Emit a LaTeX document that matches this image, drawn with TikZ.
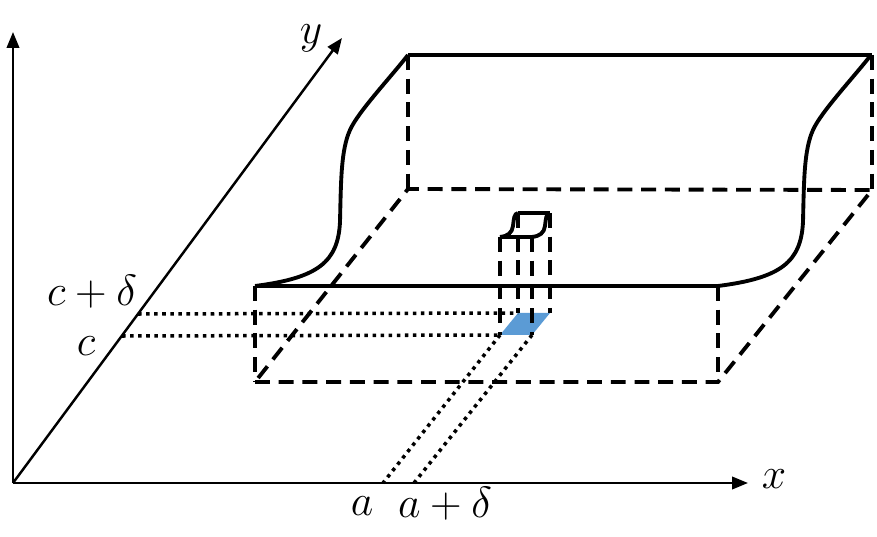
\documentclass[tikz,border=0pt]{standalone}
\usepackage{amsmath}
\usetikzlibrary{arrows.meta}

\begin{document}
\begin{tikzpicture}[x=0.02cm,y=-0.02cm]
   \useasboundingbox (0,0) rectangle (877,537);
   \tikzstyle{axis}=[line width=1.4pt,-{Triangle[length=9pt,width=7pt]}]
   \tikzstyle{edge}=[line width=2.2pt]
   \tikzstyle{hidden}=[line width=2.2pt,dash pattern=on 8.5pt off 5pt]
   \tikzstyle{proj}=[line width=2pt,dash pattern=on 2pt off 2.6pt]
   \tikzstyle{lbl}=[font=\fontsize{24}{28}\selectfont]
   \definecolor{patch}{RGB}{91,155,213}
   % axes
   \coordinate (origin) at (13,483);
   \coordinate (xtip) at (748,483);
   \coordinate (ytip) at (342,38);
   \coordinate (ztip) at (13,32);
   \coordinate (cpt) at (122,336);
   \coordinate (cdpt) at (138,314);
   \coordinate (apt) at (383,483);
   \coordinate (adpt) at (414,483);
   % box: top and floor corners, f/b = front/back, l/r = left/right
   \coordinate (topfl) at (255,286);
   \coordinate (topfr) at (718,286);
   \coordinate (topbl) at (408,55);
   \coordinate (topbr) at (872,55);
   \coordinate (floorfl) at (255,382);
   \coordinate (floorfr) at (718,382);
   \coordinate (floorbl) at (408,189);
   \coordinate (floorbr) at (872,190);
   % small column over the patch
   \coordinate (colfl) at (500,237);
   \coordinate (colfr) at (532,237);
   \coordinate (colbl) at (518,213);
   \coordinate (colbr) at (550,213);
   \coordinate (basefl) at (500,335);
   \coordinate (basefr) at (532,335);
   \coordinate (basebl) at (518,313);
   \coordinate (basebr) at (550,313);

   \fill[patch] (basefl) -- (basefr) -- (basebr) -- (basebl) -- cycle;
   \path (cdpt) edge[proj] (basebl);
   \path (cpt) edge[proj] (basefl);
   \path (basefl) edge[proj] (apt);
   \path (basefr) edge[proj] (adpt);

   \draw[axis] (origin) -- (ztip);
   \draw[axis] (origin) -- (xtip);
   \draw[axis] (origin) -- (ytip);
   \node[lbl] (xlabel) at (774,479) {$x$};
   \node[lbl] (ylabel) at (311,38) {$y$};
   \node[lbl] (clabel) at (86,346) {$c$};
   \node[lbl] (cdlabel) at (92,292) {$c+\delta$};
   \node[lbl] (alabel) at (362,506) {$a$};
   \node[lbl] (adlabel) at (445,504) {$a+\delta$};

   \draw[hidden] (floorfl) -- (floorfr) -- (floorbr) -- (floorbl) -- cycle;
   \foreach \c in {fl,fr,bl,br} {
       \path (top\c) edge[hidden] (floor\c);
       \path (col\c) edge[hidden] (base\c);
   }
   \draw[edge] (topfl) -- (topfr);
   \draw[edge] (topbl) -- (topbr);
   \draw[edge] (colfl) -- (colfr);
   \draw[edge] (colbl) -- (colbr);
   \foreach \sx in {0,463} {
       \draw[edge,shift={(\sx,0)}] (255,286) .. controls (318,278) and (338,262) .. (340,222)
           .. controls (341,180) and (341,150) .. (350,130)
           .. controls (358,112) and (390,78) .. (408,55);
   }
   \foreach \sx in {0,32} {
       \draw[edge,shift={(\sx,0)}] (500,237) .. controls (508,236) and (512,233) .. (513,226)
           .. controls (514,218) and (514,214) .. (518,213);
   }
\end{tikzpicture}
\end{document}
